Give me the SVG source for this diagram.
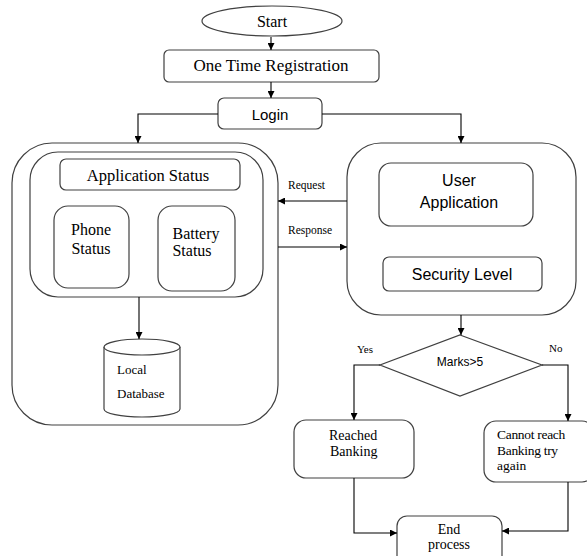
<svg xmlns="http://www.w3.org/2000/svg" width="587" height="556" viewBox="0 0 587 556">
<style>
.b{fill:#fff;stroke:#404040;stroke-width:1.2}
.c{fill:none;stroke:#000;stroke-width:1.1}
.s{font-family:"Liberation Serif","Times New Roman",serif;fill:#000}
.a{font-family:"Liberation Sans",Arial,sans-serif;fill:#000}
</style>
<defs>
<marker id="ah" viewBox="0 0 8 8" refX="8" refY="4" markerWidth="7" markerHeight="7" orient="auto" markerUnits="userSpaceOnUse">
<path d="M0,0 L8,4 L0,8 z" fill="#000"/>
</marker>
</defs>
<rect width="587" height="556" fill="#fff"/>
<g id="start">
<ellipse class="b" cx="272" cy="21" rx="70" ry="15"/>
<text class="s" x="272" y="27" font-size="16" text-anchor="middle">Start</text>
</g>
<g id="registration">
<rect class="b" x="164" y="50" width="215" height="32" rx="5"/>
<text class="s" x="271" y="71" font-size="17" text-anchor="middle">One Time Registration</text>
</g>
<g id="login">
<rect class="b" x="218" y="98" width="104" height="31" rx="6"/>
<text class="a" x="270" y="120" font-size="15" text-anchor="middle">Login</text>
</g>
<g id="device">
<rect class="b" x="12" y="143" width="266" height="282" rx="40"/>
<rect class="b" x="30" y="152" width="233" height="145" rx="28"/>
</g>
<g id="application-status">
<rect class="b" x="60" y="159" width="180" height="31" rx="6"/>
<text class="s" x="148" y="181" font-size="16.5" text-anchor="middle">Application Status</text>
</g>
<g id="phone-status">
<rect class="b" x="54" y="206" width="75" height="82" rx="14"/>
<text class="s" x="91" y="235" font-size="16" text-anchor="middle">Phone</text>
<text class="s" x="91" y="254" font-size="16" text-anchor="middle">Status</text>
</g>
<g id="battery-status">
<rect class="b" x="158" y="206" width="77" height="85" rx="14"/>
<text class="s" x="196" y="239" font-size="16" text-anchor="middle">Battery</text>
<text class="s" x="192" y="256" font-size="16" text-anchor="middle">Status</text>
</g>
<g id="local-database">
<path class="b" d="M104,347 A38,8 0 0 1 180,347 L180,409 A38,8 0 0 1 104,409 Z"/>
<path class="b" d="M104,347 A38,8 0 0 0 180,347" fill="none"/>
<text class="s" x="117" y="374" font-size="13">Local</text>
<text class="s" x="117" y="398" font-size="13">Database</text>
</g>
<g id="server">
<rect class="b" x="347" y="143" width="229" height="172" rx="34"/>
</g>
<g id="user-application">
<rect class="b" x="379" y="163" width="154" height="63" rx="12"/>
<text class="a" x="459" y="186" font-size="16" text-anchor="middle">User</text>
<text class="a" x="459" y="208" font-size="16" text-anchor="middle">Application</text>
</g>
<g id="security-level">
<rect class="b" x="383" y="257" width="159" height="34" rx="6"/>
<text class="a" x="462" y="280" font-size="16" text-anchor="middle">Security Level</text>
</g>
<g id="decision">
<polygon class="b" points="460,335 542,365 460,396 380,365"/>
<text class="a" x="460" y="366" font-size="12" text-anchor="middle">Marks&gt;5</text>
</g>
<g id="reached">
<rect class="b" x="294" y="420" width="120" height="58" rx="12"/>
<text class="s" x="329" y="440" font-size="14">Reached</text>
<text class="s" x="330" y="456" font-size="14">Banking</text>
</g>
<g id="cannot-reach">
<rect class="b" x="484" y="421" width="110" height="61" rx="12"/>
<text class="s" x="497" y="439" font-size="13.5" letter-spacing="-0.3">Cannot reach</text>
<text class="s" x="497" y="455" font-size="13.5" letter-spacing="-0.3">Banking try</text>
<text class="s" x="497" y="470" font-size="13.5">again</text>
</g>
<g id="end">
<rect class="b" x="397" y="516" width="105" height="50" rx="10"/>
<text class="s" x="449" y="534" font-size="14" text-anchor="middle">End</text>
<text class="s" x="449" y="549" font-size="14" text-anchor="middle">process</text>
</g>
<g id="connectors">
<line class="c" x1="271" y1="37" x2="271" y2="50" marker-end="url(#ah)"/>
<line class="c" x1="271" y1="82" x2="271" y2="98" marker-end="url(#ah)"/>
<polyline class="c" points="218,114 138,114 138,143" marker-end="url(#ah)"/>
<polyline class="c" points="322,114 461,114 461,143" marker-end="url(#ah)"/>
<line class="c" x1="139" y1="297" x2="139" y2="339" marker-end="url(#ah)"/>
<line class="c" x1="347" y1="201" x2="278" y2="201" marker-end="url(#ah)"/>
<line class="c" x1="278" y1="247" x2="347" y2="247" marker-end="url(#ah)"/>
<line class="c" x1="461" y1="315" x2="461" y2="335" marker-end="url(#ah)"/>
<polyline class="c" points="380,365 354,365 354,420" marker-end="url(#ah)"/>
<polyline class="c" points="542,365 568,365 568,421" marker-end="url(#ah)"/>
<polyline class="c" points="354,478 354,533 397,533" marker-end="url(#ah)"/>
<polyline class="c" points="568,482 568,531 502,531" marker-end="url(#ah)"/>
<text class="s" x="288" y="189" font-size="11.5">Request</text>
<text class="s" x="288" y="234" font-size="11.5">Response</text>
<text class="s" x="357" y="353" font-size="11">Yes</text>
<text class="s" x="549" y="352" font-size="11">No</text>
</g>
</svg>
